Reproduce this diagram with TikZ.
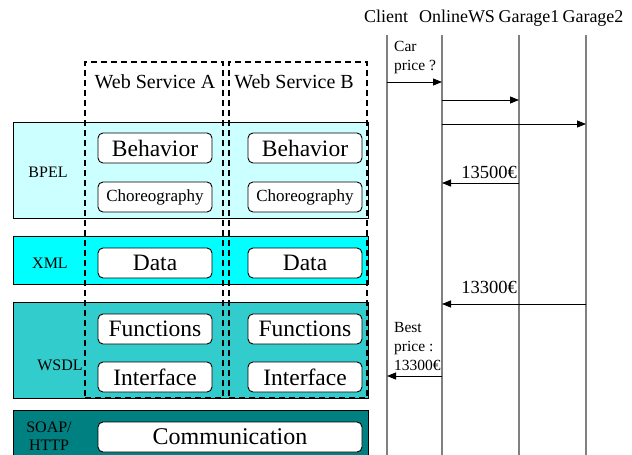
\documentclass[tikz,border=0pt]{standalone}
\usepackage{fontspec}
\setmainfont{Liberation Serif}
\usetikzlibrary{arrows.meta,positioning}
\definecolor{bpelFill}{HTML}{CCFFFF}
\definecolor{xmlFill}{HTML}{00FFFF}
\definecolor{wsdlFill}{HTML}{33CCCC}
\definecolor{soapFill}{HTML}{008080}
\definecolor{lifeGray}{HTML}{808080}

\begin{document}
\begin{tikzpicture}[x=1pt,y=-1pt,
    layer/.style={draw,line width=1pt,minimum width=355pt,inner sep=0pt},
    inbox/.style={draw,fill=white,rounded corners=5pt,line width=0.9pt,minimum width=114pt,minimum height=30pt,inner sep=0pt,font=\fontsize{23.5}{25}\selectfont},
    wsbox/.style={draw,dashed,line width=1.9pt,dash pattern=on 6pt off 4pt,minimum width=138pt,minimum height=336pt,inner sep=0pt},
    tag/.style={font=\fontsize{16}{18}\selectfont,align=center,inner sep=0pt},
    life/.style={draw=lifeGray,line width=1.6pt},
    msg/.style={-{Triangle[length=9pt,width=7pt]},line width=0.8pt},
    note/.style={font=\fontsize{15.5}{19}\selectfont,align=left,inner sep=0pt},
    price/.style={anchor=base east,inner sep=0pt,font=\fontsize{18.5}{20}\selectfont}]
    \useasboundingbox (0,0) rectangle (632,455);
    % protocol layers
    \node[layer,fill=bpelFill,minimum height=96pt] (bpel) at (190.5,170) {};
    \node[layer,fill=xmlFill,minimum height=48pt] (xml) at (190.5,260) {};
    \node[layer,fill=wsdlFill,minimum height=96pt] (wsdl) at (190.5,350) {};
    \node[layer,fill=soapFill,minimum height=50pt] (soap) at (190.5,435) {};
    \node[tag] (bpelL) at (48,172) {BPEL};
    \node[tag] (xmlL) at (50,263) {XML};
    \node[tag] (wsdlL) at (60,365) {WSDL};
    \node[tag] (soapL) at (49,436) {SOAP/\\HTTP};
    % the two services
    \node[wsbox] (wsA) at (154,230) {};
    \node[wsbox] (wsB) at (298,230) {};
    \node[anchor=base,font=\fontsize{20}{22}\selectfont] (wsAL) at (155,88) {Web Service A};
    \node[anchor=base,font=\fontsize{20}{22}\selectfont] (wsBL) at (294,88) {Web Service B};
    \node[inbox] (behA) at (155,148) {Behavior};
    \node[inbox] (behB) at (305,148) {Behavior};
    \node[inbox,font=\fontsize{17}{19}\selectfont] (chorA) at (155,197) {Choreography};
    \node[inbox,font=\fontsize{17}{19}\selectfont] (chorB) at (305,197) {Choreography};
    \node[inbox] (dataA) at (155,263) {Data};
    \node[inbox] (dataB) at (305,263) {Data};
    \node[inbox] (funA) at (155,329) {Functions};
    \node[inbox] (funB) at (305,329) {Functions};
    \node[inbox] (intA) at (155,377) {Interface};
    \node[inbox] (intB) at (305,377) {Interface};
    \node[inbox,minimum width=264pt,font=\fontsize{24}{26}\selectfont] (comm) at (230,437) {Communication};
    % sequence of messages
    \coordinate (cl) at (387,0);
    \coordinate (ws) at (442,0);
    \coordinate (g1) at (519,0);
    \coordinate (g2) at (586,0);
    \node[anchor=base,font=\fontsize{18}{20}\selectfont] (clH) at (386,22) {Client};
    \node[anchor=base,font=\fontsize{18}{20}\selectfont] (wsH) at (457,22) {OnlineWS};
    \node[anchor=base,font=\fontsize{18}{20}\selectfont] (g1H) at (529,22) {Garage1};
    \node[anchor=base,font=\fontsize{18}{20}\selectfont] (g2H) at (593,22) {Garage2};
    \foreach \p in {cl,ws,g1,g2}
      \draw[life] ([yshift=-35pt]\p) -- ([yshift=-455pt]\p);
    \draw[msg] ([yshift=-82pt]cl) -- ([yshift=-82pt]ws);
    \draw[msg] ([yshift=-100pt]ws) -- ([yshift=-100pt]g1);
    \draw[msg] ([yshift=-124pt]ws) -- ([yshift=-124pt]g2);
    \draw[msg] ([yshift=-183pt]g1) -- ([yshift=-183pt]ws);
    \draw[msg] ([yshift=-304pt]g2) -- ([yshift=-304pt]ws);
    \draw[msg] ([yshift=-376pt]ws) -- ([yshift=-376pt]cl);
    \node[note,anchor=north west] (ask) at (394,41) {Car\\price ?};
    \node[price] (p1) at (517,178) {13500€};
    \node[price] (p2) at (517,293) {13300€};
    \node[note,anchor=north west] (best) at (394,322) {Best\\price :\\13300€};
  \end{tikzpicture}
\end{document}
